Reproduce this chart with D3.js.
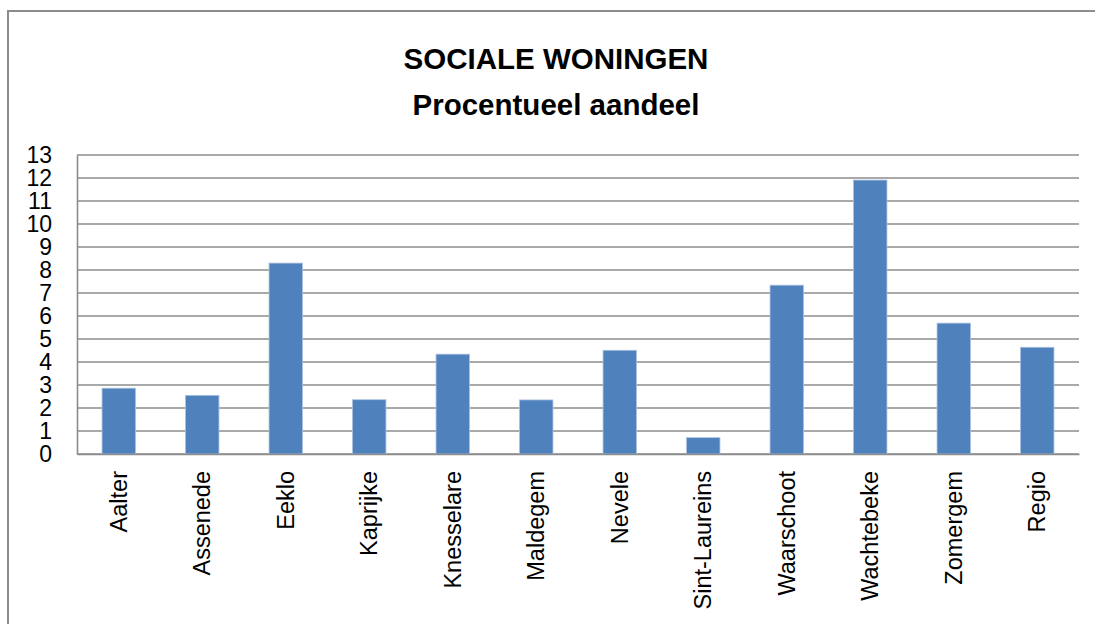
<!DOCTYPE html>
<html>
<head>
<meta charset="utf-8">
<script src="https://cdn.jsdelivr.net/npm/d3@7"></script>
<style>
  body { margin: 0; background: #fff; }
  svg { display: block; }
</style>
</head>
<body>
<svg id="svg_chart" width="1095" height="624"></svg>
<script>
var gemeenten = ["Aalter", "Assenede", "Eeklo", "Kaprijke", "Knesselare", "Maldegem",
  "Nevele", "Sint-Laureins", "Waarschoot", "Wachtebeke", "Zomergem", "Regio"];
var aandeel = [2.86, 2.55, 8.3, 2.36, 4.34, 2.35, 4.51, 0.71, 7.34, 11.91, 5.69, 4.64];
var yTicks = [0, 1, 2, 3, 4, 5, 6, 7, 8, 9, 10, 11, 12, 13];
var titel = ["SOCIALE WONINGEN", "Procentueel aandeel"];

var plotLeft = 77, plotRight = 1079, plotTop = 155, plotBottom = 454;

var x = d3.scaleBand()
  .domain(gemeenten)
  .range([plotLeft, plotRight])
  .paddingInner(0.6)
  .paddingOuter(0.3);

var y = d3.scaleLinear()
  .domain([0, 13])
  .range([plotBottom, plotTop]);

var svg = d3.select("#svg_chart");

// chart frame (only top and left edges are visible)
svg.append("path")
  .attr("d", "M8,624 L8,11 L1095,11")
  .attr("fill", "none")
  .attr("stroke", "#8c8c8c")
  .attr("stroke-width", 2);

// title
svg.selectAll(".titel")
  .data(titel)
  .enter()
  .append("text")
    .attr("class", "titel")
    .attr("x", 556)
    .attr("y", function(d, i) { return 69 + i * 46; })
    .attr("text-anchor", "middle")
    .attr("font-family", "Liberation Sans, Arial, sans-serif")
    .attr("font-weight", "bold")
    .attr("font-size", 29.5)
    .attr("fill", "#000")
    .text(function(d) { return d; });

// gridlines
svg.append("g")
  .selectAll("line")
  .data(yTicks)
  .enter()
  .append("line")
    .attr("x1", plotLeft)
    .attr("x2", plotRight)
    .attr("y1", function(d) { return y(d); })
    .attr("y2", function(d) { return y(d); })
    .attr("stroke", "#8c8c8c")
    .attr("stroke-width", 1.6);

// y axis
var yAxis = svg.append("g")
  .attr("transform", "translate(" + plotLeft + ",0)")
  .call(d3.axisLeft(y).tickValues(yTicks).tickSize(0).tickPadding(25));
yAxis.select(".domain").attr("stroke", "#8c8c8c").attr("stroke-width", 1.6);
yAxis.selectAll("text")
  .attr("font-family", "Liberation Sans, Arial, sans-serif")
  .attr("font-size", 23)
  .attr("fill", "#000");

// bars
svg.append("g")
  .selectAll("rect")
  .data(aandeel)
  .enter()
  .append("rect")
    .attr("x", function(d, i) { return x(gemeenten[i]); })
    .attr("width", x.bandwidth())
    .attr("y", function(d) { return y(d); })
    .attr("height", function(d) { return y(0) - y(d); })
    .attr("fill", "#4f81bd")
    .attr("stroke", "#a9c0de")
    .attr("stroke-width", 0.8);

// x axis
var xAxis = svg.append("g")
  .attr("transform", "translate(0," + plotBottom + ")")
  .call(d3.axisBottom(x).tickSize(0).tickPadding(0));
xAxis.select(".domain").attr("stroke", "#8c8c8c").attr("stroke-width", 1.6);
xAxis.selectAll("text")
  .attr("font-family", "Liberation Sans, Arial, sans-serif")
  .attr("font-size", 23.5)
  .attr("fill", "#000")
  .attr("text-anchor", "end")
  .attr("dy", "0.35em")
  .attr("transform", "translate(0,17) rotate(-90)")
  .attr("x", 0)
  .attr("y", 0);
</script>
</body>
</html>
